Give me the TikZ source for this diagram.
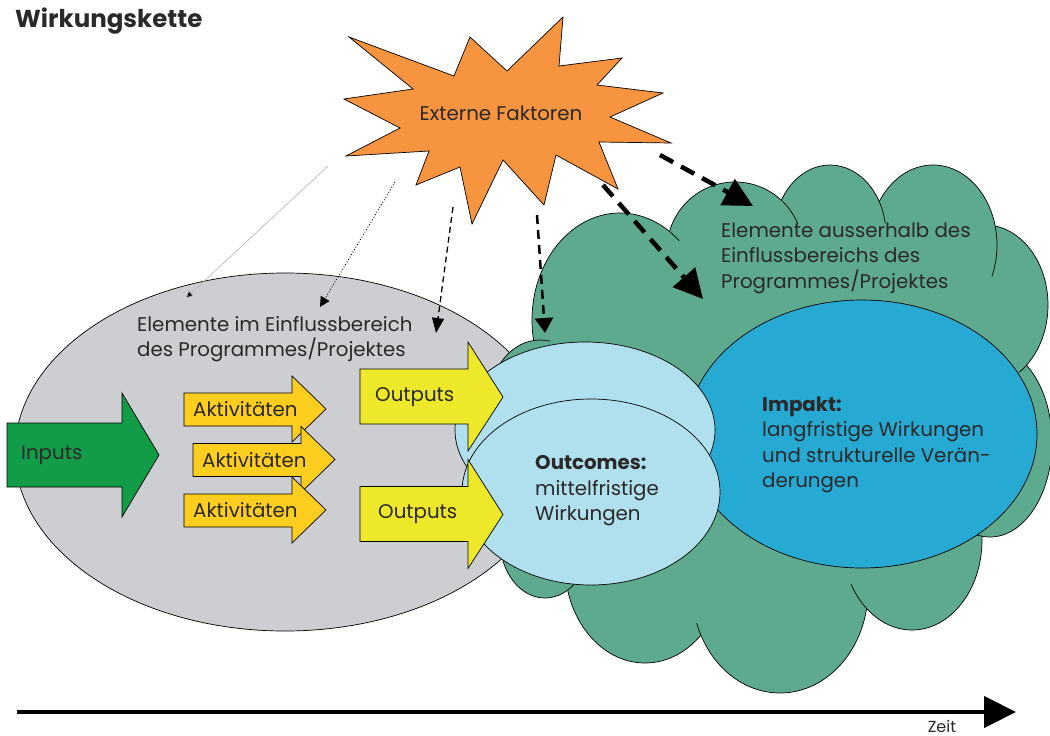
\documentclass[tikz,border=0pt]{standalone}
\usepackage{fontspec}
\setmainfont{Poppins}
\usetikzlibrary{arrows.meta}

\definecolor{starorange}{HTML}{F6943F}
\definecolor{zonegray}{HTML}{CDCED2}
\definecolor{cloudgreen}{HTML}{5EAA8F}
\definecolor{impactblue}{HTML}{26AAD3}
\definecolor{outcomeblue}{HTML}{B0E0EE}
\definecolor{inputgreen}{HTML}{139C48}
\definecolor{activityorange}{HTML}{FDCD20}
\definecolor{outputyellow}{HTML}{EDE92A}
\definecolor{inkgray}{HTML}{2B2829}

\begin{document}
\begin{tikzpicture}[x=1pt, y=-1pt,
    outline/.style={draw=black, line width=0.7pt},
    txt/.style={inner sep=0pt, text=inkgray, align=left,
      font=\fontsize{19.8}{25.5}\selectfont},
    bigdash/.style={line width=4.5pt, dash pattern=on 15pt off 9pt,
      -{Triangle[length=29pt, width=29pt]}}
  ]
    \useasboundingbox (0,0) rectangle (1050,736);

    % Title
    \node[txt, anchor=west, font=\fontsize{24.5}{28}\selectfont\bfseries]
      (title) at (15,21) {Wirkungskette};

    % Zone inside the programme
    \draw[outline, fill=zonegray]
      (285,452) ellipse [x radius=270, y radius=179];

    % Cloud of outside elements
    \foreach \cx/\cy/\rx/\ry in {645/565/80/98, 545/540/45/58,
        780/590/88/103, 912/540/70/90, 990/442/62/95, 985/305/63/80,
        933/245/64/80, 830/235/56/70, 735/250/68/68, 620/320/88/107,
        540/400/50/60} {
      \draw[outline, fill=cloudgreen]
        (\cx,\cy) ellipse [x radius=\rx, y radius=\ry];
    }
    \fill[cloudgreen]
      (678,241) -- (781,225) -- (869,219) -- (984,250) -- (1020,375)
      -- (970,525) -- (862,581) -- (706,626) -- (577,586) -- (515,553)
      -- (547,344) -- cycle;

    % Impact and outcomes
    \draw[outline, fill=impactblue]
      (862,434) ellipse [x radius=175, y radius=134];
    \draw[outline, fill=outcomeblue]
      (585,430) ellipse [x radius=130, y radius=88];
    \draw[outline, fill=outcomeblue]
      (591,492) ellipse [x radius=129, y radius=93];

    % External factors
    \draw[outline, fill=starorange]
      (349,37) -- (454,76) -- (470,37) -- (507,71) -- (563,17) -- (559,66)
      -- (622,58) -- (597,85) -- (663,93) -- (610,117) -- (671,143)
      -- (599,142) -- (618,189) -- (556,155) -- (544,205) -- (503,160)
      -- (472,224) -- (460,167) -- (416,185) -- (429,151) -- (346,156)
      -- (400,128) -- (344,99) -- (413,89) -- cycle;
    \node[txt] (extern) at (501,113) {Externe Faktoren};

    % Inputs
    \draw[outline, fill=inputgreen]
      (7,423) -- (122,423) -- (122,393) -- (159,455) -- (122,517)
      -- (122,487) -- (7,487) -- cycle;
    \node[txt, anchor=west] (inputs) at (21,455) {Inputs};

    % Activities
    \foreach \dx/\dy [count=\i] in {0/0, 9/50.5, 0/101} {
      \draw[outline, fill=activityorange, shift={(\dx,\dy)}]
        (184,393) -- (292,393) -- (292,376) -- (326,409) -- (292,442)
        -- (292,426) -- (184,426) -- cycle;
      \node[txt, anchor=west] (akt\i) at (193+\dx,409.5+\dy) {Aktivitäten};
    }

    % Outputs
    \foreach \dy/\tx [count=\i] in {0/375, 117.5/378} {
      \draw[outline, fill=outputyellow, shift={(0,\dy)}]
        (360,369) -- (468,369) -- (468,342) -- (503,397) -- (468,451)
        -- (468,424) -- (360,424) -- cycle;
      \node[txt, anchor=west] (out\i) at (\tx,397+\dy) {Outputs};
    }

    % Texts of the zones
    \node[txt, anchor=west] (inside) at (137,339)
      {Elemente im Einflussbereich\\des Programmes/Projektes};
    \node[txt, anchor=west] (outside) at (721,258)
      {Elemente ausserhalb des\\Einflussbereichs des\\Programmes/Projektes};
    \node[txt, anchor=west] (impakt) at (762,445)
      {\textbf{Impakt:}\\langfristige Wirkungen\\und strukturelle Verän-\\derungen};
    \node[txt, anchor=west] (outcomes) at (535,491)
      {\textbf{Outcomes:}\\mittelfristige\\Wirkungen};

    % Influence arrows
    \coordinate (f1) at (328,166);  \coordinate (z1) at (186,298);
    \coordinate (f2) at (395,182);  \coordinate (z2) at (320,307);
    \coordinate (f3) at (453,207);  \coordinate (z3) at (436,333);
    \coordinate (f4) at (537,215);  \coordinate (z4) at (545,333);
    \coordinate (f5) at (603,185);  \coordinate (z5) at (703,299);
    \coordinate (f6) at (660,155);  \coordinate (z6) at (753,206);
    \draw[gray!60, line width=0.6pt, -{Triangle[length=7pt, width=7pt, fill=black]}]
      (f1) -- (z1);
    \draw[dotted, line width=0.9pt, -{Triangle[length=10pt, width=10pt]}]
      (f2) -- (z2);
    \draw[line width=1.3pt, dash pattern=on 6pt off 4pt,
      -{Triangle[length=15pt, width=12pt]}]
      (f3) -- (z3);
    \draw[line width=2.5pt, dash pattern=on 9pt off 6pt,
      -{Triangle[length=15pt, width=18pt]}]
      (f4) -- (z4);
    \draw[bigdash] (f5) -- (z5);
    \draw[bigdash] (f6) -- (z6);

    % Time axis
    \coordinate (t0) at (17,712);
    \coordinate (t1) at (1016,712);
    \draw[line width=4.5pt, -{Triangle[length=32pt, width=31pt]}]
      (t0) -- (t1);
    \node[txt, anchor=base, font=\fontsize{16}{19}\selectfont]
      (zeit) at (942,732) {Zeit};
\end{tikzpicture}
\end{document}
